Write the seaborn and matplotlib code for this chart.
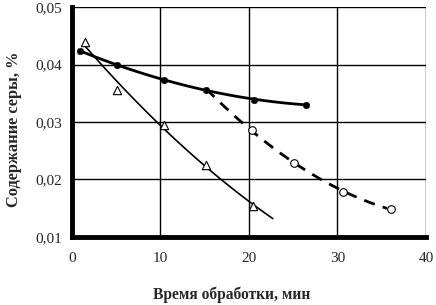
import numpy as np
import pandas as pd
import matplotlib
matplotlib.use("Agg")
import matplotlib.pyplot as plt
import seaborn as sns
from matplotlib.ticker import FixedLocator, FixedFormatter

# Data
x_filled = [0.9, 5.1, 10.4, 15.2, 20.6, 26.4]
y_filled = [0.0424, 0.0399, 0.0373, 0.0356, 0.0339, 0.0330]

x_tri = [1.5, 5.1, 10.4, 15.1, 20.5]
y_tri = [0.0439, 0.0356, 0.0295, 0.0225, 0.0154]

x_open = [20.4, 25.1, 30.6, 36.0]
y_open = [0.0286, 0.0229, 0.0178, 0.0149]

# dashed trend starts from the shared point at 15 min
x_dash_fit = [15.2] + x_open
y_dash_fit = [0.0356] + y_open

x_ticks = [0, 10, 20, 30, 40]
x_tick_labels = ["0", "10", "20", "30", "40"]
y_ticks = [0.01, 0.02, 0.03, 0.04, 0.05]
y_tick_labels = ["0,01", "0,02", "0,03", "0,04", "0,05"]

x_label = "Время обработки, мин"
y_label = "Содержание серы, %"

sns.set_style("white")
plt.rcParams["font.family"] = ["Liberation Serif", "DejaVu Serif"]

fig = plt.figure(figsize=(4.36, 3.05), dpi=100)
ax = fig.add_axes([0.165, 0.223, 0.812, 0.754])


def trend_poly(xs, ys, x0, x1):
    c = np.polyfit(xs, ys, 2)
    xx = np.linspace(x0, x1, 100)
    return pd.DataFrame({"x": xx, "y": np.polyval(c, xx)})

t1 = trend_poly(x_filled, y_filled, 0.9, 26.5)
t2 = trend_poly(x_tri, y_tri, 1.5, 22.7)
t3 = trend_poly(x_dash_fit, y_dash_fit, 15.2, 35.6)

sns.lineplot(data=t1, x="x", y="y", ax=ax, color="black", lw=2.0, sort=False)
sns.lineplot(data=t2, x="x", y="y", ax=ax, color="black", lw=1.2, sort=False)
sns.lineplot(data=t3, x="x", y="y", ax=ax, color="black", lw=2.0, sort=False)
ax.lines[-1].set_dashes([4, 3])

sns.scatterplot(x=x_filled, y=y_filled, ax=ax, color="black", s=22, marker="o",
                edgecolor="black", zorder=5)
sns.scatterplot(x=x_tri, y=y_tri, ax=ax, facecolor="white", s=36, marker="^",
                edgecolor="black", linewidth=0.8, zorder=5)
sns.scatterplot(x=x_open, y=y_open, ax=ax, facecolor="white", s=30, marker="o",
                edgecolor="black", linewidth=0.8, zorder=5)

ax.set_xlim(0, 40)
ax.set_ylim(0.01, 0.05)
ax.xaxis.set_major_locator(FixedLocator(x_ticks))
ax.xaxis.set_major_formatter(FixedFormatter(x_tick_labels))
ax.yaxis.set_major_locator(FixedLocator(y_ticks))
ax.yaxis.set_major_formatter(FixedFormatter(y_tick_labels))

ax.grid(True, color="black", lw=1.0)
ax.set_axisbelow(True)
for s in ["top", "right"]:
    ax.spines[s].set_visible(False)
for s in ["left", "bottom"]:
    ax.spines[s].set_visible(True)
    ax.spines[s].set_linewidth(3.5)
    ax.spines[s].set_color("black")

ax.tick_params(axis="both", direction="out", length=3, width=2.5, color="black",
               labelsize=11, pad=4)
ax.tick_params(axis="x", pad=8)

ax.set_xlabel(x_label, fontsize=11.2, fontweight="bold")
ax.set_ylabel(y_label, fontsize=11.8, fontweight="bold")
ax.xaxis.set_label_coords(0.452, -0.215)
ax.yaxis.set_label_coords(-0.14, 0.47)

fig.savefig("out.png", dpi=100)
